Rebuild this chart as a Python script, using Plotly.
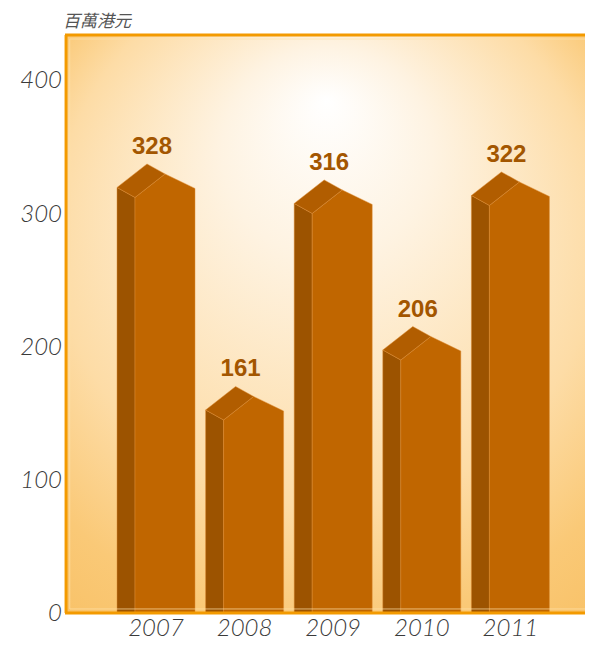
import base64
import plotly.graph_objects as go

# ---- data ----
years = ["2007", "2008", "2009", "2010", "2011"]
values = [328, 161, 316, 206, 322]
y_ticks = [0, 100, 200, 300, 400]
unit_label = "百萬港元"

# ---- geometry (pixel-based helpers) ----
# page body has an 8px margin, so the figure is shrunk and margins reduced by 8
W, H = 585, 640
ML, MR, MT, MB = 57, 0, 27, 35
PX_X = 88.6          # px per category
PX_Y = 1.3325        # px per value unit
X0 = -(156 - 65) / PX_X
X1 = X0 + (W - ML - MR) / PX_X
Y1 = (H - MT - MB) / PX_Y
PEAK_OFF = 9         # value units the peak sits above the value

SIDE_C = "#9C5300"
ROOF_C = "#B15D00"
FRONT_C = "#C06600"
EDGE_C = "rgba(222,140,50,0.8)"
FRAME_C = "#F39A00"


def px(c, ox):
    return c + ox / PX_X


def py(p, oy):
    return p - oy / PX_Y


fig = go.Figure()
for i, (yr, v) in enumerate(zip(years, values)):
    c = i
    p = v + PEAK_OFF
    side_x = [px(c, -39), px(c, -39), px(c, -21), px(c, -21), px(c, -39)]
    side_y = [0, py(p, 23.5), py(p, 33.5), 0, 0]
    roof_x = [px(c, -39), px(c, -9), px(c, 9), px(c, -21), px(c, -39)]
    roof_y = [py(p, 23.5), p, py(p, 10), py(p, 33.5), py(p, 23.5)]
    front_x = [px(c, -21), px(c, -21), px(c, 9), px(c, 39), px(c, 39), px(c, -21)]
    front_y = [0, py(p, 33.5), py(p, 10), py(p, 24.5), 0, 0]
    for xs, ys, col in [(side_x, side_y, SIDE_C), (front_x, front_y, FRONT_C),
                        (roof_x, roof_y, ROOF_C)]:
        fig.add_trace(go.Scatter(x=xs, y=ys, mode="lines", fill="toself",
                                 fillcolor=col, line=dict(color=EDGE_C, width=0.6),
                                 hoverinfo="skip", showlegend=False))

fig.add_trace(go.Scatter(
    x=[px(i, -4) for i in range(len(values))],
    y=[v + PEAK_OFF + 16 / PX_Y for v in values],
    mode="text", text=[str(v) for v in values], textposition="middle center",
    textfont=dict(family="Liberation Sans", size=24, color="#A35600", weight="bold"),
    hoverinfo="skip", showlegend=False))

# radial (focal) gradient background
pw, ph = W - ML - MR, H - MT - MB
svg = f'''<svg xmlns="http://www.w3.org/2000/svg" width="{pw}" height="{ph}" viewBox="0 0 {pw} {ph}" preserveAspectRatio="none">
<defs><radialGradient id="g" gradientUnits="userSpaceOnUse" cx="262" cy="270" r="420" fx="262" fy="65">
<stop offset="0" stop-color="#FFFFFF"/>
<stop offset="0.25" stop-color="#FEF3E2"/>
<stop offset="0.65" stop-color="#FDDCA6"/>
<stop offset="0.85" stop-color="#FAC977"/>
<stop offset="1" stop-color="#F8C166"/>
</radialGradient></defs>
<rect x="0" y="0" width="{pw}" height="{ph}" fill="url(#g)"/>
</svg>'''
src = "data:image/svg+xml;base64," + base64.b64encode(svg.encode()).decode()

tick_font = dict(family="Lato", size=24, color="#3A3A3A", style="italic", weight=300)

frame = [
    dict(type="rect", xref="paper", yref="paper", x0=0.009, x1=1.02, y0=0.007, y1=0.993,
         line=dict(color="rgba(255,225,170,0.7)", width=1), layer="above"),
    dict(type="line", xref="paper", yref="paper", x0=0, x1=1.02, y0=1, y1=1,
         line=dict(color=FRAME_C, width=3), layer="above"),
    dict(type="line", xref="paper", yref="paper", x0=0, x1=1.02, y0=0, y1=0,
         line=dict(color=FRAME_C, width=3), layer="above"),
    dict(type="line", xref="paper", yref="paper", x0=0.002, x1=0.002, y0=0, y1=1,
         line=dict(color=FRAME_C, width=3), layer="above"),
]

fig.update_layout(
    width=W, height=H,
    margin=dict(l=ML, r=MR, t=MT, b=MB, pad=0, autoexpand=False),
    paper_bgcolor="white", plot_bgcolor="rgba(0,0,0,0)",
    images=[dict(source=src, xref="paper", yref="paper", x=0, y=1, sizex=1, sizey=1,
                 xanchor="left", yanchor="top", sizing="stretch", layer="below")],
    xaxis=dict(range=[X0, X1], tickvals=list(range(len(years))), ticktext=years,
               showgrid=False, zeroline=False, ticks="", showline=False,
               ticklabelstandoff=-2, tickfont=tick_font),
    yaxis=dict(range=[0, Y1], tickvals=y_ticks, showgrid=False, zeroline=False, ticks="",
               showline=False, ticklabelstandoff=2, tickfont=tick_font),
    shapes=frame,
    annotations=[dict(text=unit_label, xref="paper", yref="paper", x=0, y=1,
                      xanchor="left", yanchor="middle", yshift=16, xshift=-3, showarrow=False,
                      borderpad=0,
                      font=dict(family="Noto Sans CJK TC", size=17, color="#555555", style="italic"))],
)

fig.write_html("out.html")
